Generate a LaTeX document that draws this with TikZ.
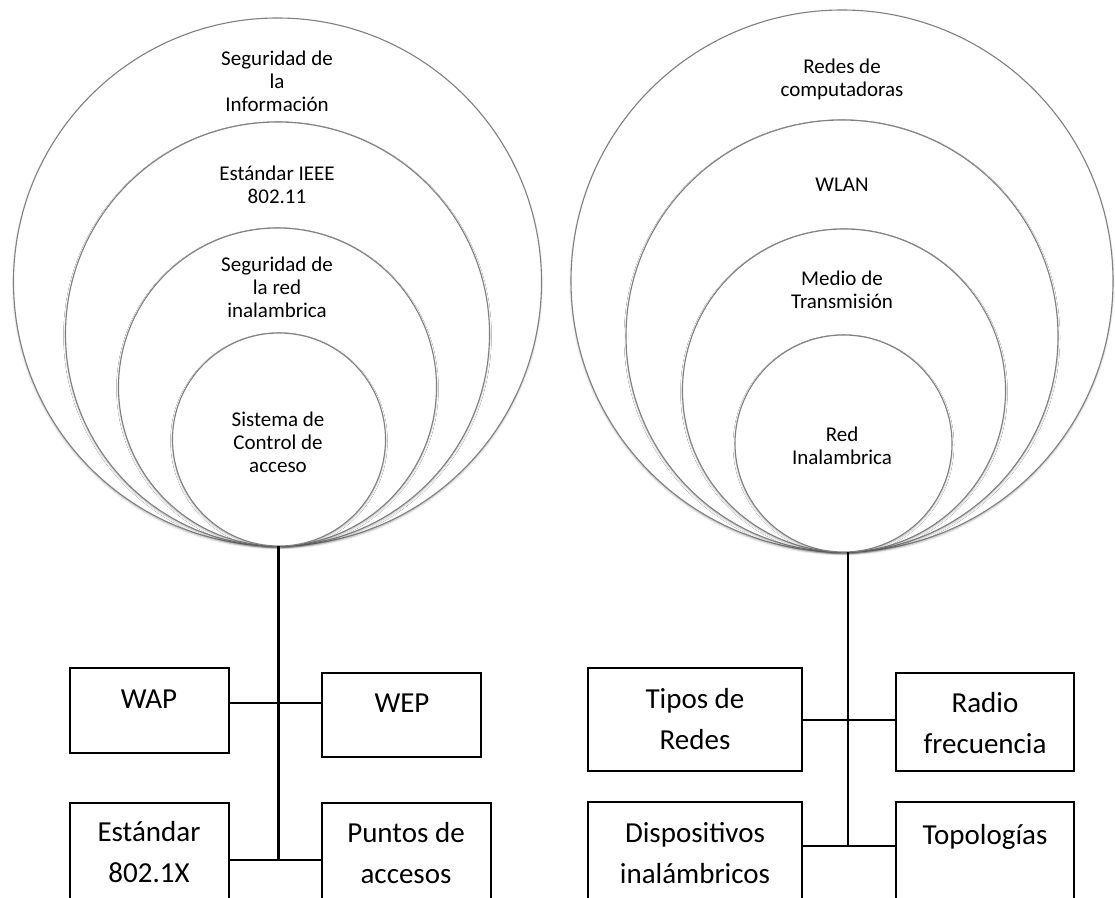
\documentclass[tikz,border=0pt]{standalone}
\usepackage{fontspec}
\setmainfont{Carlito}
\usetikzlibrary{shadows.blur}
\begin{document}
\begin{tikzpicture}[x=1pt,y=-1pt,
  ring/.style={circle, draw=black!50, line width=1.1pt, fill=white, inner sep=0pt, minimum size=#1,
    blur shadow={shadow xshift=0pt, shadow yshift=-1.5pt, shadow blur radius=2pt, shadow opacity=30}},
  ringtext/.style={align=center, inner sep=0pt, font=\fontsize{21}{23}\selectfont},
  box/.style={draw=black, line width=2.4pt, inner sep=0pt, fill=white},
  boxtext/.style={align=center, inner sep=0pt, font=\fontsize{29}{41}\selectfont},
  conn/.style={draw=black, line width=2.6pt}
]
\useasboundingbox (0,0) rectangle (1115,897);
\clip (0,0) rectangle (1115,897);

% left rings
\node[ring=528pt] (l1) at (277.5,282) {};
\node[ring=424pt] (l2) at (277.5,334) {};
\node[ring=318pt] (l3) at (277.5,387) {};
\node[ring=213pt] (l4) at (279,439.5) {};

% right rings
\node[ring=542pt] (r1) at (842,281) {};
\node[ring=432pt] (r2) at (842,336) {};
\node[ring=323pt] (r3) at (844,390.5) {};
\node[ring=217pt] (r4) at (843.5,443.5) {};

% ring texts
\node[ringtext] (tl1) at (277,81) {Seguridad de\\la\\Información};
\node[ringtext] (tl2) at (277,184.5) {Estándar IEEE\\802.11};
\node[ringtext] (tl3) at (277,287) {Seguridad de\\la red\\inalambrica};
\node[ringtext] (tl4) at (278,442) {Sistema de\\Control de\\acceso};

\node[ringtext] (tr1) at (842,79) {Redes de\\computadoras};
\node[ringtext] (tr2) at (842,184.5) {WLAN};
\node[ringtext] (tr3) at (842,289.5) {Medio de\\Transmisión};
\node[ringtext] (tr4) at (842,446) {Red\\Inalambrica};

% left boxes
\node[box, minimum width=159pt, minimum height=85pt] (wap) at (149.5,710.5) {};
\node[box, minimum width=159pt, minimum height=84pt] (wep) at (401.5,715) {};
\node[box, minimum width=159pt, minimum height=117pt] (est) at (149.5,861.5) {};
\node[box, minimum width=169pt, minimum height=117pt] (pun) at (406.5,861.5) {};

% right boxes
\node[box, minimum width=214pt, minimum height=103pt] (tip) at (695,719.5) {};
\node[box, minimum width=178pt, minimum height=98pt] (rad) at (985,722) {};
\node[box, minimum width=214pt, minimum height=118pt] (dis) at (695,861) {};
\node[box, minimum width=178pt, minimum height=118pt] (top) at (985,861) {};

% box texts
\node[boxtext] (twap) at (149,699) {WAP};
\node[boxtext] (twep) at (402,703) {WEP};
\node[boxtext] (test) at (149,852.5) {Estándar\\802.1X};
\node[boxtext] (tpun) at (406,853) {Puntos de\\accesos};
\node[boxtext] (ttip) at (695,719) {Tipos de\\Redes};
\node[boxtext] (trad) at (985,723) {Radio\\frecuencia};
\node[boxtext] (tdis) at (695,853) {Dispositivos\\inalámbricos};
\node[boxtext] (ttop) at (985,837) {Topologías};

% connectors left
\coordinate (hubL) at (278.3,546);
\coordinate (jL1) at (278.3,703);
\coordinate (jL2) at (278.3,860);
\draw[conn] (hubL) -- (jL2);
\draw[conn] (wap.east |- jL1) -- (wep.west |- jL1);
\draw[conn] (est.east |- jL2) -- (pun.west |- jL2);

% connectors right
\coordinate (hubR) at (848,552);
\coordinate (jR1) at (848,720);
\coordinate (jR2) at (848,846);
\draw[conn] (hubR) -- (jR2);
\draw[conn] (tip.east |- jR1) -- (rad.west |- jR1);
\draw[conn] (dis.east |- jR2) -- (top.west |- jR2);
\end{tikzpicture}
\end{document}
